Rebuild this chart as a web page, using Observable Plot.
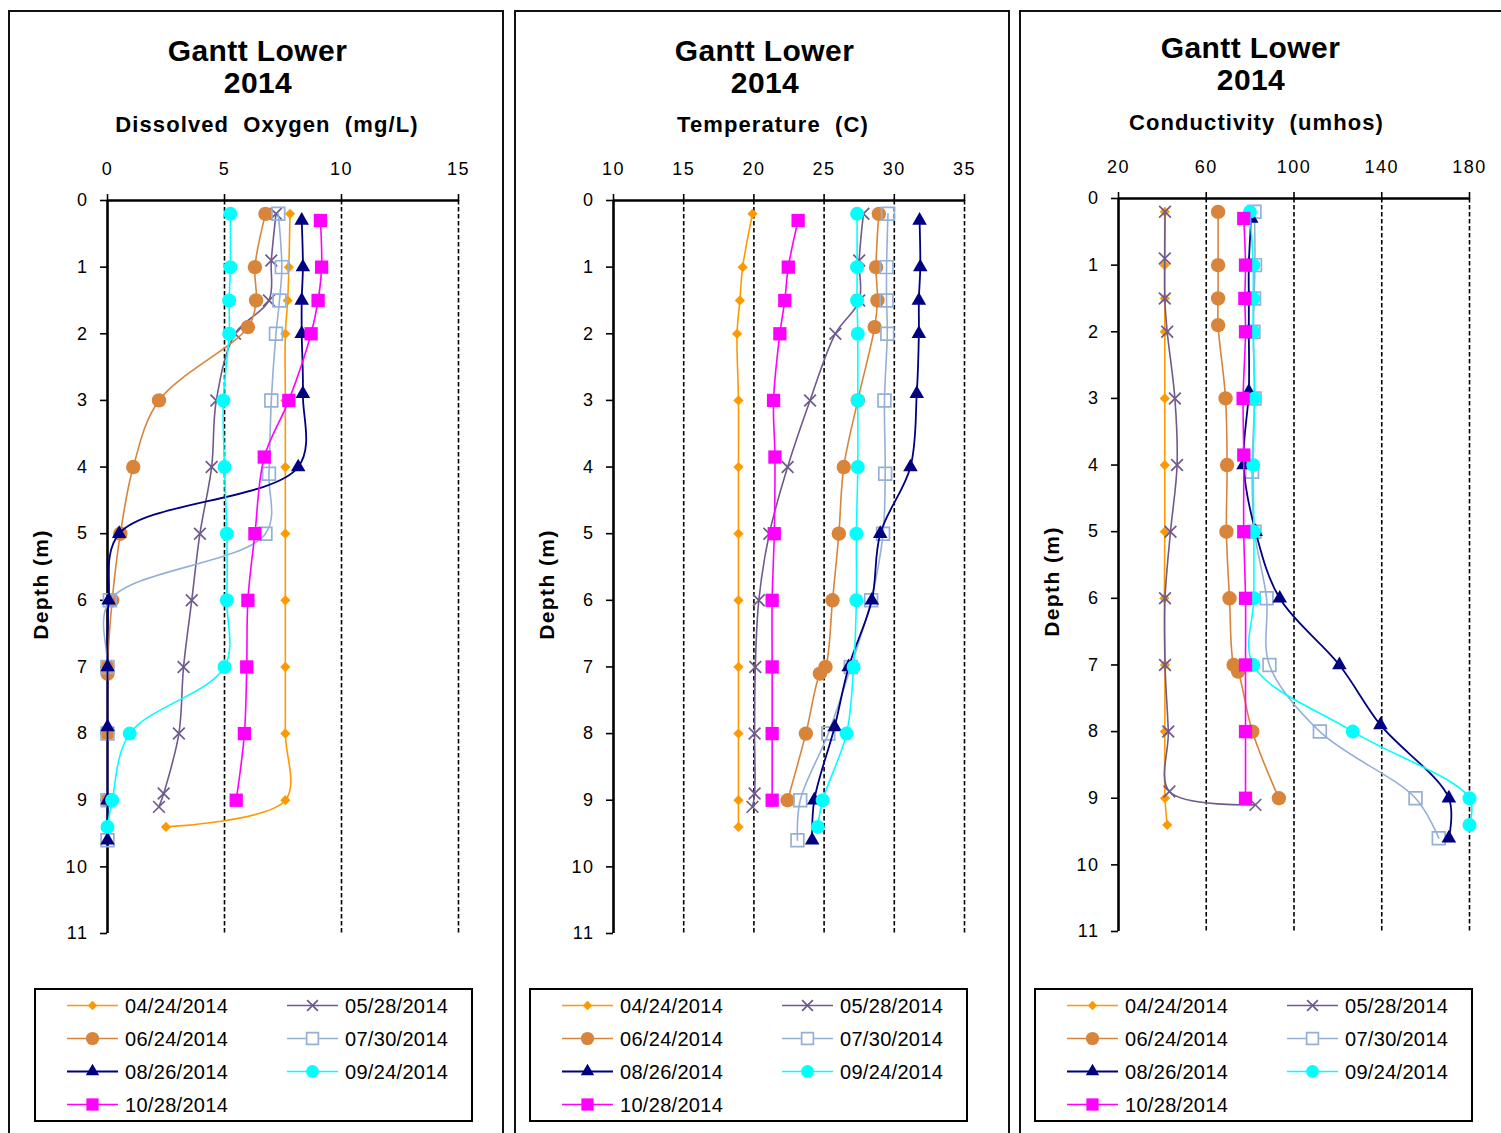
<!DOCTYPE html>
<html>
<head>
<meta charset="utf-8">
<script src="https://cdn.jsdelivr.net/npm/d3@7"></script>
<script src="https://cdn.jsdelivr.net/npm/@observablehq/plot@0.6"></script>
<style>
  body { margin: 0; background: #fff; font-family: "Liberation Sans", Arial, sans-serif; color: #000; }
  #root { position: relative; width: 1501px; height: 1133px; overflow: hidden; background: #fff; }
  .panel { position: absolute; top: 10px; height: 1140px; border: 2px solid #111; box-sizing: border-box; }
  .t1 { position: absolute; width: 500px; text-align: center; font-weight: bold; font-size: 30px; line-height: 30px; letter-spacing: 0.4px; white-space: nowrap; }
  .t2 { position: absolute; width: 500px; text-align: center; font-weight: bold; font-size: 22px; line-height: 22px; letter-spacing: 1.1px; word-spacing: 7px; white-space: nowrap; }
  .ylab { position: absolute; width: 200px; text-align: center; font-weight: bold; font-size: 21px; line-height: 21px; letter-spacing: 1.4px; white-space: nowrap; transform: rotate(-90deg); transform-origin: 50% 50%; }
  .plotwrap { position: absolute; width: 495px; height: 820px; }
  .plotwrap svg { max-width: none !important; }
  .legend { position: absolute; }
</style>
</head>
<body>
<div id="root"></div>
<script>
// ---------- series definitions ----------
const dates = ["04/24/2014", "05/28/2014", "06/24/2014", "07/30/2014", "08/26/2014", "09/24/2014", "10/28/2014"];
const colors = ["#FF9900", "#6F5A8E", "#D9843B", "#95B0D6", "#000080", "#00FFFF", "#FF00FF"];
const symbols = ["diamond2", "times", "circle", "square", "triangle", "circle", "square"];
const symbolSize = [4.6, 5.4, 7.2, 7.2, 5.4, 7.0, 7.5];
const filled = [true, false, true, false, true, true, true];

// ---------- depths (m) of each profile ----------
const depth0424 = [0.2, 1, 1.5, 2, 3, 4, 5, 6, 7, 8, 9, 9.4];
const depth0528 = [0.2, 0.9, 1.5, 2, 3, 4, 5, 6, 7, 8, 8.9, 9.1];
const depth0624 = [0.2, 1, 1.5, 1.9, 3, 4, 5, 6, 7, 7.1, 8, 9];
const depth0730 = [0.2, 1, 1.5, 2, 3, 4.1, 5, 6, 7, 8, 9, 9.6];
const depth0826 = [0.3, 1, 1.5, 2, 2.9, 4, 5, 6, 7, 7.9, 9, 9.6];
const depth0924 = [0.2, 1, 1.5, 2, 3, 4, 5, 6, 7, 8, 9, 9.4];
const depth1028 = [0.3, 1, 1.5, 2, 3, 3.85, 5, 6, 7, 8, 9];

// ---------- Dissolved oxygen (mg/L) ----------
const do0424 = [7.8, 7.75, 7.7, 7.6, 7.6, 7.6, 7.6, 7.6, 7.6, 7.6, 7.6, 2.5];
const do0528 = [7.2, 7.0, 6.9, 5.45, 4.65, 4.45, 3.95, 3.6, 3.25, 3.05, 2.4, 2.2];
const do0624 = [6.75, 6.3, 6.35, 6.0, 2.2, 1.1, 0.55, 0.2, 0.0, 0.0, 0.0, 0.0];
const do0730 = [7.3, 7.45, 7.35, 7.2, 7.0, 6.9, 6.75, 0.1, 0.0, 0.0, 0.0, 0.0];
const do0826 = [8.3, 8.35, 8.3, 8.3, 8.35, 8.15, 0.5, 0.05, 0.0, 0.0, 0.0, 0.0];
const do0924 = [5.25, 5.25, 5.2, 5.2, 4.95, 5.0, 5.1, 5.1, 5.0, 0.95, 0.2, 0.0];
const do1028 = [9.1, 9.15, 9.0, 8.7, 7.75, 6.7, 6.3, 6.0, 5.95, 5.85, 5.5];

// ---------- Temperature (C) ----------
const temp0424 = [19.9, 19.2, 19.0, 18.8, 18.9, 18.9, 18.9, 18.9, 18.9, 18.9, 18.9, 18.9];
const temp0528 = [27.8, 27.5, 27.5, 25.8, 24.0, 22.4, 21.1, 20.35, 20.1, 20.05, 20.05, 19.9];
const temp0624 = [28.9, 28.7, 28.8, 28.6, 27.4, 26.4, 26.05, 25.6, 25.1, 24.7, 23.7, 22.4];
const temp0730 = [29.55, 29.45, 29.45, 29.5, 29.3, 29.35, 29.2, 28.35, 26.9, 25.3, 23.3, 23.1];
const temp0826 = [31.8, 31.85, 31.75, 31.75, 31.6, 31.15, 29.0, 28.4, 26.75, 25.75, 24.3, 24.15];
const temp0924 = [27.35, 27.35, 27.35, 27.4, 27.4, 27.4, 27.3, 27.3, 27.1, 26.6, 24.9, 24.55];
const temp1028 = [23.15, 22.45, 22.2, 21.85, 21.4, 21.5, 21.45, 21.3, 21.3, 21.3, 21.3];

// ---------- Conductivity (umhos) ----------
const cond0424 = [41.1, 41.0, 41.1, 41.1, 41.1, 41.1, 41.1, 40.9, 41.2, 41.1, 41.2, 42.2];
const cond0528 = [41.2, 41.1, 41.1, 42.2, 45.7, 46.7, 43.7, 41.2, 41.2, 42.7, 43.2, 82.4];
const cond0624 = [65.4, 65.4, 65.4, 65.4, 68.8, 69.5, 69.2, 70.6, 72.5, 74.5, 81.0, 93.1];
const cond0730 = [82.0, 82.2, 81.8, 81.5, 82.0, 80.9, 82.0, 87.5, 88.8, 111.8, 155.4, 166.0];
const cond0826 = [80.5, 79.4, 79.4, 79.4, 79.4, 77.0, 82.5, 93.5, 120.7, 139.4, 170.6, 170.6];
const cond0924 = [79.9, 81.4, 81.4, 81.4, 82.0, 81.4, 81.7, 81.7, 81.4, 126.8, 180.0, 180.0];
const cond1028 = [77.1, 77.9, 77.6, 77.9, 76.8, 77.1, 77.1, 77.9, 77.9, 77.9, 77.9];

// ---------- axis ticks ----------
const depthTicks = [0, 1, 2, 3, 4, 5, 6, 7, 8, 9, 10, 11];
const doTicks = [0, 5, 10, 15];
const tempTicks = [10, 15, 20, 25, 30, 35];
const condTicks = [20, 60, 100, 140, 180];

const titleText = "Gantt Lower";
const yearText = "2014";
const depthLabel = "Depth (m)";

const depthsBySeries = [depth0424, depth0528, depth0624, depth0730, depth0826, depth0924, depth1028];

function rowsFor(valuesBySeries) {
  return dates.map((d, i) => depthsBySeries[i].map((dep, j) => ({date: d, depth: dep, value: valuesBySeries[i][j]})));
}

const panels = [
  {left: 8, dy: 0, subtitle: "Dissolved Oxygen (mg/L)", values: [do0424, do0528, do0624, do0730, do0826, do0924, do1028], ticks: doTicks,
   tcx: 257.5, scx: 267, legendLeft: 34},
  {left: 514, dy: 0, subtitle: "Temperature (C)", values: [temp0424, temp0528, temp0624, temp0730, temp0826, temp0924, temp1028], ticks: tempTicks,
   tcx: 764.5, scx: 773, legendLeft: 529},
  {left: 1019, dy: -2.5, subtitle: "Conductivity (umhos)", values: [cond0424, cond0528, cond0624, cond0730, cond0826, cond0924, cond1028], ticks: condTicks,
   tcx: 1250.5, scx: 1256.5, legendLeft: 1034}
];

const root = document.getElementById("root");

function el(cls, text, style) {
  const d = document.createElement("div");
  d.className = cls;
  d.textContent = text;
  Object.assign(d.style, style);
  root.appendChild(d);
  return d;
}

function makePlot(cfg) {
  const series = rowsFor(cfg.values);
  const domain = [cfg.ticks[0], cfg.ticks[cfg.ticks.length - 1]];
  const grid = cfg.ticks.slice(1);
  const marks = [
    Plot.ruleX(grid, {y1: depthTicks[0], y2: depthTicks[depthTicks.length - 1], stroke: "#000", strokeWidth: 1.6, strokeDasharray: "4.5,2.5"}),
    Plot.axisX({anchor: "top", ticks: cfg.ticks, tickSize: 7, tickPadding: 19, fontSize: 18, strokeWidth: 1.6, label: null, tickFormat: d => String(d)}),
    Plot.axisY({anchor: "left", ticks: depthTicks, tickSize: 7, tickPadding: 12, fontSize: 18, strokeWidth: 1.6, label: null, tickFormat: d => String(d)}),
    Plot.ruleY([depthTicks[0]], {stroke: "#000", strokeWidth: 2.6}),
    Plot.ruleX([domain[0]], {stroke: "#000", strokeWidth: 2.6})
  ];
  series.forEach((rows, i) => {
    marks.push(Plot.line(rows, {x: "value", y: "depth", stroke: colors[i], strokeWidth: i === 4 ? 1.8 : 1.6, curve: "catmull-rom"}));
    marks.push(Plot.dot(rows, {
      x: "value", y: "depth", symbol: symbols[i], r: symbolSize[i],
      fill: filled[i] ? colors[i] : "none",
      stroke: filled[i] ? "none" : colors[i],
      strokeWidth: filled[i] ? 0 : 1.7
    }));
  });
  const svg = Plot.plot({
    width: 495, height: 820,
    marginLeft: 99, marginRight: 45, marginTop: 60, marginBottom: 27,
    x: {domain},
    y: {domain: [depthTicks[0], depthTicks[depthTicks.length - 1]], reverse: true},
    style: {background: "transparent", overflow: "visible", fontFamily: "'Liberation Sans', Arial, sans-serif", color: "#000", maxWidth: "none"},
    marks
  });
  svg.querySelectorAll("text").forEach(t => t.setAttribute("letter-spacing", "1.5"));
  return svg;
}

const d3Symbols = {diamond2: d3.symbolDiamond2, times: d3.symbolTimes, circle: d3.symbolCircle, square: d3.symbolSquare, triangle: d3.symbolTriangle};

function makeLegend(left) {
  const W = 439, H = 134;
  const svg = d3.create("svg").attr("width", W).attr("height", H)
    .attr("class", "legend")
    .style("left", left + "px").style("top", "988px")
    .style("font-family", "'Liberation Sans', Arial, sans-serif");
  svg.append("rect").attr("x", 1).attr("y", 1).attr("width", W - 2).attr("height", H - 2)
    .attr("fill", "none").attr("stroke", "#000").attr("stroke-width", 2);
  dates.forEach((d, i) => {
    const col = i % 2, row = Math.floor(i / 2);
    const x1 = col ? 253 : 33, x2 = x1 + 51, cy = 17.5 + row * 33;
    const g = svg.append("g");
    g.append("line").attr("x1", x1).attr("x2", x2).attr("y1", cy).attr("y2", cy)
      .attr("stroke", colors[i]).attr("stroke-width", i === 4 ? 1.8 : 1.6);
    const r = symbolSize[i] * 0.92;
    g.append("path").attr("d", d3.symbol(d3Symbols[symbols[i]], Math.PI * r * r)())
      .attr("transform", `translate(${(x1 + x2) / 2},${cy})`)
      .attr("fill", filled[i] ? colors[i] : "#fff")
      .attr("stroke", filled[i] ? "none" : colors[i])
      .attr("stroke-width", filled[i] ? 0 : 1.7);
    g.append("text").attr("x", x1 + 58).attr("y", cy + 7.2)
      .attr("font-size", 20).attr("letter-spacing", 0.3).attr("fill", "#000").text(d);
  });
  root.appendChild(svg.node());
}

panels.forEach(p => {
  const box = document.createElement("div");
  box.className = "panel";
  box.style.left = p.left + "px";
  box.style.width = "496px";
  root.appendChild(box);

  el("t1", titleText, {left: (p.tcx - 250) + "px", top: (35.6 + p.dy) + "px"});
  el("t1", yearText, {left: (p.tcx + 0.5 - 250) + "px", top: (67.8 + p.dy) + "px"});
  el("t2", p.subtitle, {left: (p.scx - 250) + "px", top: (114.4 + p.dy) + "px"});
  el("ylab", depthLabel, {left: (p.left + 32 - 100) + "px", top: (584 + p.dy - 10.5) + "px"});

  const wrap = document.createElement("div");
  wrap.className = "plotwrap";
  wrap.style.left = p.left + "px";
  wrap.style.top = (140 + p.dy) + "px";
  wrap.appendChild(makePlot(p));
  root.appendChild(wrap);

  makeLegend(p.legendLeft);
});
</script>
</body>
</html>
